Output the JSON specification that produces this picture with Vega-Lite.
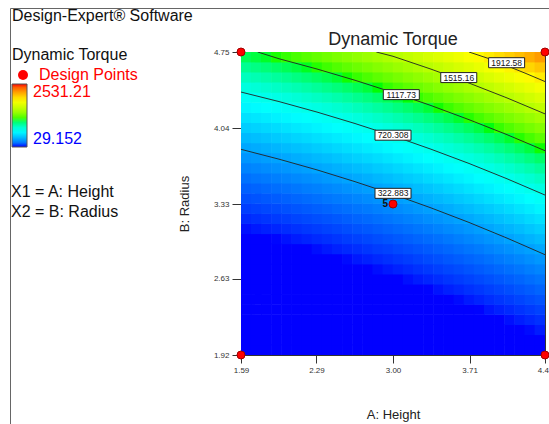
{
"$schema":"https://vega.github.io/schema/vega-lite/v6.json",
"width":304,"height":303,
"autosize":{"type":"none"},
"padding":{"left":241,"top":52,"right":4,"bottom":69},
"background":"white",
"title":{"text":"Dynamic Torque","fontSize":18,"font":"Liberation Sans","fontWeight":"normal","color":"#222","anchor":"middle","frame":"group","offset":6,"dy":47},
"config":{
 "font":"Liberation Sans",
 "view":{"stroke":"#333","strokeWidth":1},
 "axis":{"labelFont":"Liberation Sans","titleFont":"Liberation Sans","titleFontWeight":"normal","labelFontSize":8,"titleFontSize":13,"labelColor":"#333","titleColor":"#222","domainColor":"#333","tickColor":"#333","grid":false,"labelFlush":false},
 "legend":{"labelFont":"Liberation Sans","titleFont":"Liberation Sans","titleFontWeight":"normal"}
},
"encoding":{
 "x":{"field":"a","type":"quantitative","scale":{"domain":[1.59,4.41],"nice":false,"zero":false},"axis":{"title":"A: Height","values":[1.59,2.29,3.0,3.71,4.41],"format":".2f","tickSize":8,"labelPadding":3,"titlePadding":34}},
 "y":{"field":"b","type":"quantitative","scale":{"domain":[1.92,4.75],"nice":false,"zero":false},"axis":{"title":"B: Radius","values":[1.92,2.63,3.33,4.04,4.75],"format":".2f","tickSize":9,"labelPadding":3,"titlePadding":22}}
},
"layer":[
{"data":{"values":[
{"a":1.637,"b":1.967,"t":29},{"a":1.637,"b":2.062,"t":29},{"a":1.637,"b":2.156,"t":29},{"a":1.637,"b":2.25,"t":29},{"a":1.637,"b":2.345,"t":29},{"a":1.637,"b":2.439,"t":29},{"a":1.637,"b":2.533,"t":29},{"a":1.637,"b":2.628,"t":29},{"a":1.637,"b":2.722,"t":29},{"a":1.637,"b":2.816,"t":29},{"a":1.637,"b":2.911,"t":29},{"a":1.637,"b":3.005,"t":29},{"a":1.637,"b":3.099,"t":35},{"a":1.637,"b":3.194,"t":55},{"a":1.637,"b":3.288,"t":81},{"a":1.637,"b":3.382,"t":112},{"a":1.637,"b":3.477,"t":147},{"a":1.637,"b":3.571,"t":187},{"a":1.637,"b":3.665,"t":233},{"a":1.637,"b":3.76,"t":283},{"a":1.637,"b":3.854,"t":338},{"a":1.637,"b":3.948,"t":397},{"a":1.637,"b":4.043,"t":462},{"a":1.637,"b":4.137,"t":532},{"a":1.637,"b":4.231,"t":606},{"a":1.637,"b":4.326,"t":686},{"a":1.637,"b":4.42,"t":770},{"a":1.637,"b":4.514,"t":859},{"a":1.637,"b":4.609,"t":953},{"a":1.637,"b":4.703,"t":1052},
{"a":1.731,"b":1.967,"t":29},{"a":1.731,"b":2.062,"t":29},{"a":1.731,"b":2.156,"t":29},{"a":1.731,"b":2.25,"t":29},{"a":1.731,"b":2.345,"t":29},{"a":1.731,"b":2.439,"t":29},{"a":1.731,"b":2.533,"t":29},{"a":1.731,"b":2.628,"t":29},{"a":1.731,"b":2.722,"t":29},{"a":1.731,"b":2.816,"t":29},{"a":1.731,"b":2.911,"t":29},{"a":1.731,"b":3.005,"t":29},{"a":1.731,"b":3.099,"t":40},{"a":1.731,"b":3.194,"t":62},{"a":1.731,"b":3.288,"t":89},{"a":1.731,"b":3.382,"t":120},{"a":1.731,"b":3.477,"t":157},{"a":1.731,"b":3.571,"t":199},{"a":1.731,"b":3.665,"t":245},{"a":1.731,"b":3.76,"t":296},{"a":1.731,"b":3.854,"t":352},{"a":1.731,"b":3.948,"t":413},{"a":1.731,"b":4.043,"t":479},{"a":1.731,"b":4.137,"t":550},{"a":1.731,"b":4.231,"t":626},{"a":1.731,"b":4.326,"t":706},{"a":1.731,"b":4.42,"t":791},{"a":1.731,"b":4.514,"t":882},{"a":1.731,"b":4.609,"t":977},{"a":1.731,"b":4.703,"t":1077},
{"a":1.825,"b":1.967,"t":29},{"a":1.825,"b":2.062,"t":29},{"a":1.825,"b":2.156,"t":29},{"a":1.825,"b":2.25,"t":29},{"a":1.825,"b":2.345,"t":29},{"a":1.825,"b":2.439,"t":29},{"a":1.825,"b":2.533,"t":29},{"a":1.825,"b":2.628,"t":29},{"a":1.825,"b":2.722,"t":29},{"a":1.825,"b":2.816,"t":29},{"a":1.825,"b":2.911,"t":29},{"a":1.825,"b":3.005,"t":29},{"a":1.825,"b":3.099,"t":45},{"a":1.825,"b":3.194,"t":68},{"a":1.825,"b":3.288,"t":97},{"a":1.825,"b":3.382,"t":130},{"a":1.825,"b":3.477,"t":168},{"a":1.825,"b":3.571,"t":210},{"a":1.825,"b":3.665,"t":258},{"a":1.825,"b":3.76,"t":310},{"a":1.825,"b":3.854,"t":368},{"a":1.825,"b":3.948,"t":430},{"a":1.825,"b":4.043,"t":497},{"a":1.825,"b":4.137,"t":569},{"a":1.825,"b":4.231,"t":646},{"a":1.825,"b":4.326,"t":727},{"a":1.825,"b":4.42,"t":814},{"a":1.825,"b":4.514,"t":905},{"a":1.825,"b":4.609,"t":1001},{"a":1.825,"b":4.703,"t":1102},
{"a":1.919,"b":1.967,"t":29},{"a":1.919,"b":2.062,"t":29},{"a":1.919,"b":2.156,"t":29},{"a":1.919,"b":2.25,"t":29},{"a":1.919,"b":2.345,"t":29},{"a":1.919,"b":2.439,"t":29},{"a":1.919,"b":2.533,"t":29},{"a":1.919,"b":2.628,"t":29},{"a":1.919,"b":2.722,"t":29},{"a":1.919,"b":2.816,"t":29},{"a":1.919,"b":2.911,"t":29},{"a":1.919,"b":3.005,"t":31},{"a":1.919,"b":3.099,"t":51},{"a":1.919,"b":3.194,"t":76},{"a":1.919,"b":3.288,"t":105},{"a":1.919,"b":3.382,"t":139},{"a":1.919,"b":3.477,"t":179},{"a":1.919,"b":3.571,"t":223},{"a":1.919,"b":3.665,"t":272},{"a":1.919,"b":3.76,"t":325},{"a":1.919,"b":3.854,"t":384},{"a":1.919,"b":3.948,"t":447},{"a":1.919,"b":4.043,"t":515},{"a":1.919,"b":4.137,"t":589},{"a":1.919,"b":4.231,"t":666},{"a":1.919,"b":4.326,"t":749},{"a":1.919,"b":4.42,"t":837},{"a":1.919,"b":4.514,"t":929},{"a":1.919,"b":4.609,"t":1027},{"a":1.919,"b":4.703,"t":1129},
{"a":2.013,"b":1.967,"t":29},{"a":2.013,"b":2.062,"t":29},{"a":2.013,"b":2.156,"t":29},{"a":2.013,"b":2.25,"t":29},{"a":2.013,"b":2.345,"t":29},{"a":2.013,"b":2.439,"t":29},{"a":2.013,"b":2.533,"t":29},{"a":2.013,"b":2.628,"t":29},{"a":2.013,"b":2.722,"t":29},{"a":2.013,"b":2.816,"t":29},{"a":2.013,"b":2.911,"t":29},{"a":2.013,"b":3.005,"t":36},{"a":2.013,"b":3.099,"t":57},{"a":2.013,"b":3.194,"t":83},{"a":2.013,"b":3.288,"t":114},{"a":2.013,"b":3.382,"t":150},{"a":2.013,"b":3.477,"t":190},{"a":2.013,"b":3.571,"t":236},{"a":2.013,"b":3.665,"t":286},{"a":2.013,"b":3.76,"t":341},{"a":2.013,"b":3.854,"t":401},{"a":2.013,"b":3.948,"t":465},{"a":2.013,"b":4.043,"t":535},{"a":2.013,"b":4.137,"t":609},{"a":2.013,"b":4.231,"t":688},{"a":2.013,"b":4.326,"t":772},{"a":2.013,"b":4.42,"t":861},{"a":2.013,"b":4.514,"t":954},{"a":2.013,"b":4.609,"t":1053},{"a":2.013,"b":4.703,"t":1156},
{"a":2.107,"b":1.967,"t":29},{"a":2.107,"b":2.062,"t":29},{"a":2.107,"b":2.156,"t":29},{"a":2.107,"b":2.25,"t":29},{"a":2.107,"b":2.345,"t":29},{"a":2.107,"b":2.439,"t":29},{"a":2.107,"b":2.533,"t":29},{"a":2.107,"b":2.628,"t":29},{"a":2.107,"b":2.722,"t":29},{"a":2.107,"b":2.816,"t":29},{"a":2.107,"b":2.911,"t":29},{"a":2.107,"b":3.005,"t":42},{"a":2.107,"b":3.099,"t":64},{"a":2.107,"b":3.194,"t":92},{"a":2.107,"b":3.288,"t":124},{"a":2.107,"b":3.382,"t":161},{"a":2.107,"b":3.477,"t":203},{"a":2.107,"b":3.571,"t":249},{"a":2.107,"b":3.665,"t":301},{"a":2.107,"b":3.76,"t":357},{"a":2.107,"b":3.854,"t":418},{"a":2.107,"b":3.948,"t":484},{"a":2.107,"b":4.043,"t":555},{"a":2.107,"b":4.137,"t":630},{"a":2.107,"b":4.231,"t":711},{"a":2.107,"b":4.326,"t":796},{"a":2.107,"b":4.42,"t":886},{"a":2.107,"b":4.514,"t":981},{"a":2.107,"b":4.609,"t":1080},{"a":2.107,"b":4.703,"t":1185},
{"a":2.201,"b":1.967,"t":29},{"a":2.201,"b":2.062,"t":29},{"a":2.201,"b":2.156,"t":29},{"a":2.201,"b":2.25,"t":29},{"a":2.201,"b":2.345,"t":29},{"a":2.201,"b":2.439,"t":29},{"a":2.201,"b":2.533,"t":29},{"a":2.201,"b":2.628,"t":29},{"a":2.201,"b":2.722,"t":29},{"a":2.201,"b":2.816,"t":29},{"a":2.201,"b":2.911,"t":29},{"a":2.201,"b":3.005,"t":48},{"a":2.201,"b":3.099,"t":72},{"a":2.201,"b":3.194,"t":101},{"a":2.201,"b":3.288,"t":134},{"a":2.201,"b":3.382,"t":173},{"a":2.201,"b":3.477,"t":216},{"a":2.201,"b":3.571,"t":264},{"a":2.201,"b":3.665,"t":316},{"a":2.201,"b":3.76,"t":374},{"a":2.201,"b":3.854,"t":436},{"a":2.201,"b":3.948,"t":504},{"a":2.201,"b":4.043,"t":575},{"a":2.201,"b":4.137,"t":652},{"a":2.201,"b":4.231,"t":734},{"a":2.201,"b":4.326,"t":820},{"a":2.201,"b":4.42,"t":911},{"a":2.201,"b":4.514,"t":1007},{"a":2.201,"b":4.609,"t":1108},{"a":2.201,"b":4.703,"t":1214},
{"a":2.295,"b":1.967,"t":29},{"a":2.295,"b":2.062,"t":29},{"a":2.295,"b":2.156,"t":29},{"a":2.295,"b":2.25,"t":29},{"a":2.295,"b":2.345,"t":29},{"a":2.295,"b":2.439,"t":29},{"a":2.295,"b":2.533,"t":29},{"a":2.295,"b":2.628,"t":29},{"a":2.295,"b":2.722,"t":29},{"a":2.295,"b":2.816,"t":29},{"a":2.295,"b":2.911,"t":34},{"a":2.295,"b":3.005,"t":55},{"a":2.295,"b":3.099,"t":80},{"a":2.295,"b":3.194,"t":110},{"a":2.295,"b":3.288,"t":145},{"a":2.295,"b":3.382,"t":185},{"a":2.295,"b":3.477,"t":229},{"a":2.295,"b":3.571,"t":279},{"a":2.295,"b":3.665,"t":333},{"a":2.295,"b":3.76,"t":392},{"a":2.295,"b":3.854,"t":455},{"a":2.295,"b":3.948,"t":524},{"a":2.295,"b":4.043,"t":597},{"a":2.295,"b":4.137,"t":675},{"a":2.295,"b":4.231,"t":758},{"a":2.295,"b":4.326,"t":846},{"a":2.295,"b":4.42,"t":938},{"a":2.295,"b":4.514,"t":1035},{"a":2.295,"b":4.609,"t":1137},{"a":2.295,"b":4.703,"t":1244},
{"a":2.389,"b":1.967,"t":29},{"a":2.389,"b":2.062,"t":29},{"a":2.389,"b":2.156,"t":29},{"a":2.389,"b":2.25,"t":29},{"a":2.389,"b":2.345,"t":29},{"a":2.389,"b":2.439,"t":29},{"a":2.389,"b":2.533,"t":29},{"a":2.389,"b":2.628,"t":29},{"a":2.389,"b":2.722,"t":29},{"a":2.389,"b":2.816,"t":29},{"a":2.389,"b":2.911,"t":40},{"a":2.389,"b":3.005,"t":62},{"a":2.389,"b":3.099,"t":89},{"a":2.389,"b":3.194,"t":120},{"a":2.389,"b":3.288,"t":157},{"a":2.389,"b":3.382,"t":198},{"a":2.389,"b":3.477,"t":244},{"a":2.389,"b":3.571,"t":294},{"a":2.389,"b":3.665,"t":350},{"a":2.389,"b":3.76,"t":410},{"a":2.389,"b":3.854,"t":475},{"a":2.389,"b":3.948,"t":545},{"a":2.389,"b":4.043,"t":620},{"a":2.389,"b":4.137,"t":699},{"a":2.389,"b":4.231,"t":783},{"a":2.389,"b":4.326,"t":872},{"a":2.389,"b":4.42,"t":966},{"a":2.389,"b":4.514,"t":1064},{"a":2.389,"b":4.609,"t":1168},{"a":2.389,"b":4.703,"t":1276},
{"a":2.483,"b":1.967,"t":29},{"a":2.483,"b":2.062,"t":29},{"a":2.483,"b":2.156,"t":29},{"a":2.483,"b":2.25,"t":29},{"a":2.483,"b":2.345,"t":29},{"a":2.483,"b":2.439,"t":29},{"a":2.483,"b":2.533,"t":29},{"a":2.483,"b":2.628,"t":29},{"a":2.483,"b":2.722,"t":29},{"a":2.483,"b":2.816,"t":29},{"a":2.483,"b":2.911,"t":47},{"a":2.483,"b":3.005,"t":70},{"a":2.483,"b":3.099,"t":98},{"a":2.483,"b":3.194,"t":131},{"a":2.483,"b":3.288,"t":169},{"a":2.483,"b":3.382,"t":212},{"a":2.483,"b":3.477,"t":259},{"a":2.483,"b":3.571,"t":311},{"a":2.483,"b":3.665,"t":368},{"a":2.483,"b":3.76,"t":429},{"a":2.483,"b":3.854,"t":496},{"a":2.483,"b":3.948,"t":567},{"a":2.483,"b":4.043,"t":643},{"a":2.483,"b":4.137,"t":724},{"a":2.483,"b":4.231,"t":809},{"a":2.483,"b":4.326,"t":899},{"a":2.483,"b":4.42,"t":994},{"a":2.483,"b":4.514,"t":1094},{"a":2.483,"b":4.609,"t":1199},{"a":2.483,"b":4.703,"t":1308},
{"a":2.577,"b":1.967,"t":29},{"a":2.577,"b":2.062,"t":29},{"a":2.577,"b":2.156,"t":29},{"a":2.577,"b":2.25,"t":29},{"a":2.577,"b":2.345,"t":29},{"a":2.577,"b":2.439,"t":29},{"a":2.577,"b":2.533,"t":29},{"a":2.577,"b":2.628,"t":29},{"a":2.577,"b":2.722,"t":29},{"a":2.577,"b":2.816,"t":33},{"a":2.577,"b":2.911,"t":54},{"a":2.577,"b":3.005,"t":79},{"a":2.577,"b":3.099,"t":108},{"a":2.577,"b":3.194,"t":143},{"a":2.577,"b":3.288,"t":182},{"a":2.577,"b":3.382,"t":226},{"a":2.577,"b":3.477,"t":275},{"a":2.577,"b":3.571,"t":328},{"a":2.577,"b":3.665,"t":387},{"a":2.577,"b":3.76,"t":450},{"a":2.577,"b":3.854,"t":517},{"a":2.577,"b":3.948,"t":590},{"a":2.577,"b":4.043,"t":667},{"a":2.577,"b":4.137,"t":749},{"a":2.577,"b":4.231,"t":836},{"a":2.577,"b":4.326,"t":928},{"a":2.577,"b":4.42,"t":1024},{"a":2.577,"b":4.514,"t":1125},{"a":2.577,"b":4.609,"t":1231},{"a":2.577,"b":4.703,"t":1341},
{"a":2.671,"b":1.967,"t":29},{"a":2.671,"b":2.062,"t":29},{"a":2.671,"b":2.156,"t":29},{"a":2.671,"b":2.25,"t":29},{"a":2.671,"b":2.345,"t":29},{"a":2.671,"b":2.439,"t":29},{"a":2.671,"b":2.533,"t":29},{"a":2.671,"b":2.628,"t":29},{"a":2.671,"b":2.722,"t":29},{"a":2.671,"b":2.816,"t":40},{"a":2.671,"b":2.911,"t":61},{"a":2.671,"b":3.005,"t":88},{"a":2.671,"b":3.099,"t":119},{"a":2.671,"b":3.194,"t":155},{"a":2.671,"b":3.288,"t":196},{"a":2.671,"b":3.382,"t":241},{"a":2.671,"b":3.477,"t":291},{"a":2.671,"b":3.571,"t":346},{"a":2.671,"b":3.665,"t":406},{"a":2.671,"b":3.76,"t":471},{"a":2.671,"b":3.854,"t":540},{"a":2.671,"b":3.948,"t":614},{"a":2.671,"b":4.043,"t":692},{"a":2.671,"b":4.137,"t":776},{"a":2.671,"b":4.231,"t":864},{"a":2.671,"b":4.326,"t":957},{"a":2.671,"b":4.42,"t":1054},{"a":2.671,"b":4.514,"t":1157},{"a":2.671,"b":4.609,"t":1264},{"a":2.671,"b":4.703,"t":1376},
{"a":2.765,"b":1.967,"t":29},{"a":2.765,"b":2.062,"t":29},{"a":2.765,"b":2.156,"t":29},{"a":2.765,"b":2.25,"t":29},{"a":2.765,"b":2.345,"t":29},{"a":2.765,"b":2.439,"t":29},{"a":2.765,"b":2.533,"t":29},{"a":2.765,"b":2.628,"t":29},{"a":2.765,"b":2.722,"t":29},{"a":2.765,"b":2.816,"t":46},{"a":2.765,"b":2.911,"t":70},{"a":2.765,"b":3.005,"t":98},{"a":2.765,"b":3.099,"t":130},{"a":2.765,"b":3.194,"t":168},{"a":2.765,"b":3.288,"t":210},{"a":2.765,"b":3.382,"t":257},{"a":2.765,"b":3.477,"t":309},{"a":2.765,"b":3.571,"t":365},{"a":2.765,"b":3.665,"t":426},{"a":2.765,"b":3.76,"t":492},{"a":2.765,"b":3.854,"t":563},{"a":2.765,"b":3.948,"t":638},{"a":2.765,"b":4.043,"t":718},{"a":2.765,"b":4.137,"t":803},{"a":2.765,"b":4.231,"t":893},{"a":2.765,"b":4.326,"t":987},{"a":2.765,"b":4.42,"t":1086},{"a":2.765,"b":4.514,"t":1190},{"a":2.765,"b":4.609,"t":1298},{"a":2.765,"b":4.703,"t":1412},
{"a":2.859,"b":1.967,"t":29},{"a":2.859,"b":2.062,"t":29},{"a":2.859,"b":2.156,"t":29},{"a":2.859,"b":2.25,"t":29},{"a":2.859,"b":2.345,"t":29},{"a":2.859,"b":2.439,"t":29},{"a":2.859,"b":2.533,"t":29},{"a":2.859,"b":2.628,"t":29},{"a":2.859,"b":2.722,"t":34},{"a":2.859,"b":2.816,"t":54},{"a":2.859,"b":2.911,"t":79},{"a":2.859,"b":3.005,"t":108},{"a":2.859,"b":3.099,"t":143},{"a":2.859,"b":3.194,"t":182},{"a":2.859,"b":3.288,"t":225},{"a":2.859,"b":3.382,"t":274},{"a":2.859,"b":3.477,"t":327},{"a":2.859,"b":3.571,"t":385},{"a":2.859,"b":3.665,"t":448},{"a":2.859,"b":3.76,"t":515},{"a":2.859,"b":3.854,"t":587},{"a":2.859,"b":3.948,"t":664},{"a":2.859,"b":4.043,"t":745},{"a":2.859,"b":4.137,"t":832},{"a":2.859,"b":4.231,"t":923},{"a":2.859,"b":4.326,"t":1018},{"a":2.859,"b":4.42,"t":1119},{"a":2.859,"b":4.514,"t":1224},{"a":2.859,"b":4.609,"t":1334},{"a":2.859,"b":4.703,"t":1448},
{"a":2.953,"b":1.967,"t":29},{"a":2.953,"b":2.062,"t":29},{"a":2.953,"b":2.156,"t":29},{"a":2.953,"b":2.25,"t":29},{"a":2.953,"b":2.345,"t":29},{"a":2.953,"b":2.439,"t":29},{"a":2.953,"b":2.533,"t":29},{"a":2.953,"b":2.628,"t":29},{"a":2.953,"b":2.722,"t":40},{"a":2.953,"b":2.816,"t":62},{"a":2.953,"b":2.911,"t":88},{"a":2.953,"b":3.005,"t":120},{"a":2.953,"b":3.099,"t":156},{"a":2.953,"b":3.194,"t":196},{"a":2.953,"b":3.288,"t":241},{"a":2.953,"b":3.382,"t":291},{"a":2.953,"b":3.477,"t":346},{"a":2.953,"b":3.571,"t":406},{"a":2.953,"b":3.665,"t":470},{"a":2.953,"b":3.76,"t":539},{"a":2.953,"b":3.854,"t":612},{"a":2.953,"b":3.948,"t":691},{"a":2.953,"b":4.043,"t":774},{"a":2.953,"b":4.137,"t":861},{"a":2.953,"b":4.231,"t":954},{"a":2.953,"b":4.326,"t":1051},{"a":2.953,"b":4.42,"t":1153},{"a":2.953,"b":4.514,"t":1259},{"a":2.953,"b":4.609,"t":1370},{"a":2.953,"b":4.703,"t":1486},
{"a":3.047,"b":1.967,"t":29},{"a":3.047,"b":2.062,"t":29},{"a":3.047,"b":2.156,"t":29},{"a":3.047,"b":2.25,"t":29},{"a":3.047,"b":2.345,"t":29},{"a":3.047,"b":2.439,"t":29},{"a":3.047,"b":2.533,"t":29},{"a":3.047,"b":2.628,"t":29},{"a":3.047,"b":2.722,"t":47},{"a":3.047,"b":2.816,"t":71},{"a":3.047,"b":2.911,"t":99},{"a":3.047,"b":3.005,"t":132},{"a":3.047,"b":3.099,"t":169},{"a":3.047,"b":3.194,"t":211},{"a":3.047,"b":3.288,"t":258},{"a":3.047,"b":3.382,"t":310},{"a":3.047,"b":3.477,"t":366},{"a":3.047,"b":3.571,"t":427},{"a":3.047,"b":3.665,"t":493},{"a":3.047,"b":3.76,"t":563},{"a":3.047,"b":3.854,"t":638},{"a":3.047,"b":3.948,"t":718},{"a":3.047,"b":4.043,"t":803},{"a":3.047,"b":4.137,"t":892},{"a":3.047,"b":4.231,"t":986},{"a":3.047,"b":4.326,"t":1084},{"a":3.047,"b":4.42,"t":1188},{"a":3.047,"b":4.514,"t":1295},{"a":3.047,"b":4.609,"t":1408},{"a":3.047,"b":4.703,"t":1525},
{"a":3.141,"b":1.967,"t":29},{"a":3.141,"b":2.062,"t":29},{"a":3.141,"b":2.156,"t":29},{"a":3.141,"b":2.25,"t":29},{"a":3.141,"b":2.345,"t":29},{"a":3.141,"b":2.439,"t":29},{"a":3.141,"b":2.533,"t":29},{"a":3.141,"b":2.628,"t":35},{"a":3.141,"b":2.722,"t":55},{"a":3.141,"b":2.816,"t":80},{"a":3.141,"b":2.911,"t":110},{"a":3.141,"b":3.005,"t":145},{"a":3.141,"b":3.099,"t":184},{"a":3.141,"b":3.194,"t":228},{"a":3.141,"b":3.288,"t":276},{"a":3.141,"b":3.382,"t":329},{"a":3.141,"b":3.477,"t":387},{"a":3.141,"b":3.571,"t":450},{"a":3.141,"b":3.665,"t":517},{"a":3.141,"b":3.76,"t":589},{"a":3.141,"b":3.854,"t":666},{"a":3.141,"b":3.948,"t":747},{"a":3.141,"b":4.043,"t":833},{"a":3.141,"b":4.137,"t":923},{"a":3.141,"b":4.231,"t":1019},{"a":3.141,"b":4.326,"t":1119},{"a":3.141,"b":4.42,"t":1224},{"a":3.141,"b":4.514,"t":1333},{"a":3.141,"b":4.609,"t":1447},{"a":3.141,"b":4.703,"t":1566},
{"a":3.235,"b":1.967,"t":29},{"a":3.235,"b":2.062,"t":29},{"a":3.235,"b":2.156,"t":29},{"a":3.235,"b":2.25,"t":29},{"a":3.235,"b":2.345,"t":29},{"a":3.235,"b":2.439,"t":29},{"a":3.235,"b":2.533,"t":29},{"a":3.235,"b":2.628,"t":42},{"a":3.235,"b":2.722,"t":64},{"a":3.235,"b":2.816,"t":91},{"a":3.235,"b":2.911,"t":122},{"a":3.235,"b":3.005,"t":158},{"a":3.235,"b":3.099,"t":199},{"a":3.235,"b":3.194,"t":245},{"a":3.235,"b":3.288,"t":295},{"a":3.235,"b":3.382,"t":350},{"a":3.235,"b":3.477,"t":409},{"a":3.235,"b":3.571,"t":473},{"a":3.235,"b":3.665,"t":542},{"a":3.235,"b":3.76,"t":616},{"a":3.235,"b":3.854,"t":694},{"a":3.235,"b":3.948,"t":777},{"a":3.235,"b":4.043,"t":864},{"a":3.235,"b":4.137,"t":956},{"a":3.235,"b":4.231,"t":1053},{"a":3.235,"b":4.326,"t":1155},{"a":3.235,"b":4.42,"t":1261},{"a":3.235,"b":4.514,"t":1372},{"a":3.235,"b":4.609,"t":1487},{"a":3.235,"b":4.703,"t":1607},
{"a":3.329,"b":1.967,"t":29},{"a":3.329,"b":2.062,"t":29},{"a":3.329,"b":2.156,"t":29},{"a":3.329,"b":2.25,"t":29},{"a":3.329,"b":2.345,"t":29},{"a":3.329,"b":2.439,"t":29},{"a":3.329,"b":2.533,"t":30},{"a":3.329,"b":2.628,"t":50},{"a":3.329,"b":2.722,"t":74},{"a":3.329,"b":2.816,"t":102},{"a":3.329,"b":2.911,"t":135},{"a":3.329,"b":3.005,"t":173},{"a":3.329,"b":3.099,"t":215},{"a":3.329,"b":3.194,"t":263},{"a":3.329,"b":3.288,"t":314},{"a":3.329,"b":3.382,"t":371},{"a":3.329,"b":3.477,"t":432},{"a":3.329,"b":3.571,"t":498},{"a":3.329,"b":3.665,"t":568},{"a":3.329,"b":3.76,"t":643},{"a":3.329,"b":3.854,"t":723},{"a":3.329,"b":3.948,"t":807},{"a":3.329,"b":4.043,"t":896},{"a":3.329,"b":4.137,"t":990},{"a":3.329,"b":4.231,"t":1089},{"a":3.329,"b":4.326,"t":1192},{"a":3.329,"b":4.42,"t":1299},{"a":3.329,"b":4.514,"t":1412},{"a":3.329,"b":4.609,"t":1529},{"a":3.329,"b":4.703,"t":1650},
{"a":3.423,"b":1.967,"t":29},{"a":3.423,"b":2.062,"t":29},{"a":3.423,"b":2.156,"t":29},{"a":3.423,"b":2.25,"t":29},{"a":3.423,"b":2.345,"t":29},{"a":3.423,"b":2.439,"t":29},{"a":3.423,"b":2.533,"t":37},{"a":3.423,"b":2.628,"t":58},{"a":3.423,"b":2.722,"t":84},{"a":3.423,"b":2.816,"t":114},{"a":3.423,"b":2.911,"t":149},{"a":3.423,"b":3.005,"t":188},{"a":3.423,"b":3.099,"t":233},{"a":3.423,"b":3.194,"t":281},{"a":3.423,"b":3.288,"t":335},{"a":3.423,"b":3.382,"t":393},{"a":3.423,"b":3.477,"t":456},{"a":3.423,"b":3.571,"t":523},{"a":3.423,"b":3.665,"t":595},{"a":3.423,"b":3.76,"t":672},{"a":3.423,"b":3.854,"t":753},{"a":3.423,"b":3.948,"t":839},{"a":3.423,"b":4.043,"t":930},{"a":3.423,"b":4.137,"t":1025},{"a":3.423,"b":4.231,"t":1125},{"a":3.423,"b":4.326,"t":1230},{"a":3.423,"b":4.42,"t":1339},{"a":3.423,"b":4.514,"t":1453},{"a":3.423,"b":4.609,"t":1571},{"a":3.423,"b":4.703,"t":1695},
{"a":3.517,"b":1.967,"t":29},{"a":3.517,"b":2.062,"t":29},{"a":3.517,"b":2.156,"t":29},{"a":3.517,"b":2.25,"t":29},{"a":3.517,"b":2.345,"t":29},{"a":3.517,"b":2.439,"t":29},{"a":3.517,"b":2.533,"t":45},{"a":3.517,"b":2.628,"t":68},{"a":3.517,"b":2.722,"t":95},{"a":3.517,"b":2.816,"t":127},{"a":3.517,"b":2.911,"t":164},{"a":3.517,"b":3.005,"t":205},{"a":3.517,"b":3.099,"t":251},{"a":3.517,"b":3.194,"t":301},{"a":3.517,"b":3.288,"t":356},{"a":3.517,"b":3.382,"t":416},{"a":3.517,"b":3.477,"t":481},{"a":3.517,"b":3.571,"t":550},{"a":3.517,"b":3.665,"t":623},{"a":3.517,"b":3.76,"t":702},{"a":3.517,"b":3.854,"t":785},{"a":3.517,"b":3.948,"t":872},{"a":3.517,"b":4.043,"t":965},{"a":3.517,"b":4.137,"t":1061},{"a":3.517,"b":4.231,"t":1163},{"a":3.517,"b":4.326,"t":1269},{"a":3.517,"b":4.42,"t":1380},{"a":3.517,"b":4.514,"t":1495},{"a":3.517,"b":4.609,"t":1615},{"a":3.517,"b":4.703,"t":1740},
{"a":3.611,"b":1.967,"t":29},{"a":3.611,"b":2.062,"t":29},{"a":3.611,"b":2.156,"t":29},{"a":3.611,"b":2.25,"t":29},{"a":3.611,"b":2.345,"t":29},{"a":3.611,"b":2.439,"t":33},{"a":3.611,"b":2.533,"t":53},{"a":3.611,"b":2.628,"t":78},{"a":3.611,"b":2.722,"t":107},{"a":3.611,"b":2.816,"t":141},{"a":3.611,"b":2.911,"t":179},{"a":3.611,"b":3.005,"t":222},{"a":3.611,"b":3.099,"t":270},{"a":3.611,"b":3.194,"t":322},{"a":3.611,"b":3.288,"t":379},{"a":3.611,"b":3.382,"t":440},{"a":3.611,"b":3.477,"t":507},{"a":3.611,"b":3.571,"t":577},{"a":3.611,"b":3.665,"t":653},{"a":3.611,"b":3.76,"t":733},{"a":3.611,"b":3.854,"t":817},{"a":3.611,"b":3.948,"t":907},{"a":3.611,"b":4.043,"t":1000},{"a":3.611,"b":4.137,"t":1099},{"a":3.611,"b":4.231,"t":1202},{"a":3.611,"b":4.326,"t":1310},{"a":3.611,"b":4.42,"t":1422},{"a":3.611,"b":4.514,"t":1539},{"a":3.611,"b":4.609,"t":1661},{"a":3.611,"b":4.703,"t":1787},
{"a":3.705,"b":1.967,"t":29},{"a":3.705,"b":2.062,"t":29},{"a":3.705,"b":2.156,"t":29},{"a":3.705,"b":2.25,"t":29},{"a":3.705,"b":2.345,"t":29},{"a":3.705,"b":2.439,"t":41},{"a":3.705,"b":2.533,"t":63},{"a":3.705,"b":2.628,"t":89},{"a":3.705,"b":2.722,"t":120},{"a":3.705,"b":2.816,"t":156},{"a":3.705,"b":2.911,"t":196},{"a":3.705,"b":3.005,"t":241},{"a":3.705,"b":3.099,"t":290},{"a":3.705,"b":3.194,"t":344},{"a":3.705,"b":3.288,"t":403},{"a":3.705,"b":3.382,"t":466},{"a":3.705,"b":3.477,"t":534},{"a":3.705,"b":3.571,"t":606},{"a":3.705,"b":3.665,"t":683},{"a":3.705,"b":3.76,"t":765},{"a":3.705,"b":3.854,"t":851},{"a":3.705,"b":3.948,"t":942},{"a":3.705,"b":4.043,"t":1038},{"a":3.705,"b":4.137,"t":1138},{"a":3.705,"b":4.231,"t":1242},{"a":3.705,"b":4.326,"t":1352},{"a":3.705,"b":4.42,"t":1466},{"a":3.705,"b":4.514,"t":1584},{"a":3.705,"b":4.609,"t":1707},{"a":3.705,"b":4.703,"t":1835},
{"a":3.799,"b":1.967,"t":29},{"a":3.799,"b":2.062,"t":29},{"a":3.799,"b":2.156,"t":29},{"a":3.799,"b":2.25,"t":29},{"a":3.799,"b":2.345,"t":30},{"a":3.799,"b":2.439,"t":49},{"a":3.799,"b":2.533,"t":73},{"a":3.799,"b":2.628,"t":101},{"a":3.799,"b":2.722,"t":134},{"a":3.799,"b":2.816,"t":171},{"a":3.799,"b":2.911,"t":213},{"a":3.799,"b":3.005,"t":260},{"a":3.799,"b":3.099,"t":311},{"a":3.799,"b":3.194,"t":367},{"a":3.799,"b":3.288,"t":427},{"a":3.799,"b":3.382,"t":492},{"a":3.799,"b":3.477,"t":562},{"a":3.799,"b":3.571,"t":636},{"a":3.799,"b":3.665,"t":715},{"a":3.799,"b":3.76,"t":798},{"a":3.799,"b":3.854,"t":886},{"a":3.799,"b":3.948,"t":979},{"a":3.799,"b":4.043,"t":1076},{"a":3.799,"b":4.137,"t":1178},{"a":3.799,"b":4.231,"t":1284},{"a":3.799,"b":4.326,"t":1395},{"a":3.799,"b":4.42,"t":1511},{"a":3.799,"b":4.514,"t":1631},{"a":3.799,"b":4.609,"t":1755},{"a":3.799,"b":4.703,"t":1885},
{"a":3.893,"b":1.967,"t":29},{"a":3.893,"b":2.062,"t":29},{"a":3.893,"b":2.156,"t":29},{"a":3.893,"b":2.25,"t":29},{"a":3.893,"b":2.345,"t":38},{"a":3.893,"b":2.439,"t":59},{"a":3.893,"b":2.533,"t":84},{"a":3.893,"b":2.628,"t":114},{"a":3.893,"b":2.722,"t":149},{"a":3.893,"b":2.816,"t":188},{"a":3.893,"b":2.911,"t":232},{"a":3.893,"b":3.005,"t":280},{"a":3.893,"b":3.099,"t":333},{"a":3.893,"b":3.194,"t":391},{"a":3.893,"b":3.288,"t":453},{"a":3.893,"b":3.382,"t":520},{"a":3.893,"b":3.477,"t":591},{"a":3.893,"b":3.571,"t":667},{"a":3.893,"b":3.665,"t":748},{"a":3.893,"b":3.76,"t":833},{"a":3.893,"b":3.854,"t":922},{"a":3.893,"b":3.948,"t":1017},{"a":3.893,"b":4.043,"t":1116},{"a":3.893,"b":4.137,"t":1219},{"a":3.893,"b":4.231,"t":1327},{"a":3.893,"b":4.326,"t":1440},{"a":3.893,"b":4.42,"t":1557},{"a":3.893,"b":4.514,"t":1679},{"a":3.893,"b":4.609,"t":1805},{"a":3.893,"b":4.703,"t":1936},
{"a":3.987,"b":1.967,"t":29},{"a":3.987,"b":2.062,"t":29},{"a":3.987,"b":2.156,"t":29},{"a":3.987,"b":2.25,"t":29},{"a":3.987,"b":2.345,"t":46},{"a":3.987,"b":2.439,"t":69},{"a":3.987,"b":2.533,"t":96},{"a":3.987,"b":2.628,"t":128},{"a":3.987,"b":2.722,"t":165},{"a":3.987,"b":2.816,"t":206},{"a":3.987,"b":2.911,"t":252},{"a":3.987,"b":3.005,"t":302},{"a":3.987,"b":3.099,"t":357},{"a":3.987,"b":3.194,"t":416},{"a":3.987,"b":3.288,"t":480},{"a":3.987,"b":3.382,"t":549},{"a":3.987,"b":3.477,"t":622},{"a":3.987,"b":3.571,"t":699},{"a":3.987,"b":3.665,"t":782},{"a":3.987,"b":3.76,"t":869},{"a":3.987,"b":3.854,"t":960},{"a":3.987,"b":3.948,"t":1056},{"a":3.987,"b":4.043,"t":1157},{"a":3.987,"b":4.137,"t":1262},{"a":3.987,"b":4.231,"t":1371},{"a":3.987,"b":4.326,"t":1486},{"a":3.987,"b":4.42,"t":1605},{"a":3.987,"b":4.514,"t":1728},{"a":3.987,"b":4.609,"t":1856},{"a":3.987,"b":4.703,"t":1989},
{"a":4.081,"b":1.967,"t":29},{"a":4.081,"b":2.062,"t":29},{"a":4.081,"b":2.156,"t":29},{"a":4.081,"b":2.25,"t":35},{"a":4.081,"b":2.345,"t":55},{"a":4.081,"b":2.439,"t":80},{"a":4.081,"b":2.533,"t":109},{"a":4.081,"b":2.628,"t":143},{"a":4.081,"b":2.722,"t":182},{"a":4.081,"b":2.816,"t":225},{"a":4.081,"b":2.911,"t":272},{"a":4.081,"b":3.005,"t":324},{"a":4.081,"b":3.099,"t":381},{"a":4.081,"b":3.194,"t":442},{"a":4.081,"b":3.288,"t":508},{"a":4.081,"b":3.382,"t":579},{"a":4.081,"b":3.477,"t":653},{"a":4.081,"b":3.571,"t":733},{"a":4.081,"b":3.665,"t":817},{"a":4.081,"b":3.76,"t":906},{"a":4.081,"b":3.854,"t":999},{"a":4.081,"b":3.948,"t":1097},{"a":4.081,"b":4.043,"t":1199},{"a":4.081,"b":4.137,"t":1306},{"a":4.081,"b":4.231,"t":1417},{"a":4.081,"b":4.326,"t":1533},{"a":4.081,"b":4.42,"t":1654},{"a":4.081,"b":4.514,"t":1779},{"a":4.081,"b":4.609,"t":1909},{"a":4.081,"b":4.703,"t":2043},
{"a":4.175,"b":1.967,"t":29},{"a":4.175,"b":2.062,"t":29},{"a":4.175,"b":2.156,"t":29},{"a":4.175,"b":2.25,"t":44},{"a":4.175,"b":2.345,"t":66},{"a":4.175,"b":2.439,"t":92},{"a":4.175,"b":2.533,"t":124},{"a":4.175,"b":2.628,"t":159},{"a":4.175,"b":2.722,"t":200},{"a":4.175,"b":2.816,"t":245},{"a":4.175,"b":2.911,"t":294},{"a":4.175,"b":3.005,"t":348},{"a":4.175,"b":3.099,"t":407},{"a":4.175,"b":3.194,"t":470},{"a":4.175,"b":3.288,"t":538},{"a":4.175,"b":3.382,"t":610},{"a":4.175,"b":3.477,"t":687},{"a":4.175,"b":3.571,"t":768},{"a":4.175,"b":3.665,"t":854},{"a":4.175,"b":3.76,"t":944},{"a":4.175,"b":3.854,"t":1039},{"a":4.175,"b":3.948,"t":1139},{"a":4.175,"b":4.043,"t":1243},{"a":4.175,"b":4.137,"t":1351},{"a":4.175,"b":4.231,"t":1464},{"a":4.175,"b":4.326,"t":1582},{"a":4.175,"b":4.42,"t":1704},{"a":4.175,"b":4.514,"t":1831},{"a":4.175,"b":4.609,"t":1963},{"a":4.175,"b":4.703,"t":2099},
{"a":4.269,"b":1.967,"t":29},{"a":4.269,"b":2.062,"t":29},{"a":4.269,"b":2.156,"t":33},{"a":4.269,"b":2.25,"t":53},{"a":4.269,"b":2.345,"t":77},{"a":4.269,"b":2.439,"t":106},{"a":4.269,"b":2.533,"t":139},{"a":4.269,"b":2.628,"t":177},{"a":4.269,"b":2.722,"t":219},{"a":4.269,"b":2.816,"t":266},{"a":4.269,"b":2.911,"t":317},{"a":4.269,"b":3.005,"t":373},{"a":4.269,"b":3.099,"t":434},{"a":4.269,"b":3.194,"t":499},{"a":4.269,"b":3.288,"t":568},{"a":4.269,"b":3.382,"t":642},{"a":4.269,"b":3.477,"t":721},{"a":4.269,"b":3.571,"t":804},{"a":4.269,"b":3.665,"t":892},{"a":4.269,"b":3.76,"t":984},{"a":4.269,"b":3.854,"t":1081},{"a":4.269,"b":3.948,"t":1182},{"a":4.269,"b":4.043,"t":1288},{"a":4.269,"b":4.137,"t":1398},{"a":4.269,"b":4.231,"t":1513},{"a":4.269,"b":4.326,"t":1633},{"a":4.269,"b":4.42,"t":1757},{"a":4.269,"b":4.514,"t":1885},{"a":4.269,"b":4.609,"t":2018},{"a":4.269,"b":4.703,"t":2156},
{"a":4.363,"b":1.967,"t":29},{"a":4.363,"b":2.062,"t":29},{"a":4.363,"b":2.156,"t":42},{"a":4.363,"b":2.25,"t":63},{"a":4.363,"b":2.345,"t":89},{"a":4.363,"b":2.439,"t":120},{"a":4.363,"b":2.533,"t":155},{"a":4.363,"b":2.628,"t":195},{"a":4.363,"b":2.722,"t":239},{"a":4.363,"b":2.816,"t":288},{"a":4.363,"b":2.911,"t":341},{"a":4.363,"b":3.005,"t":399},{"a":4.363,"b":3.099,"t":462},{"a":4.363,"b":3.194,"t":529},{"a":4.363,"b":3.288,"t":600},{"a":4.363,"b":3.382,"t":676},{"a":4.363,"b":3.477,"t":756},{"a":4.363,"b":3.571,"t":842},{"a":4.363,"b":3.665,"t":931},{"a":4.363,"b":3.76,"t":1025},{"a":4.363,"b":3.854,"t":1124},{"a":4.363,"b":3.948,"t":1227},{"a":4.363,"b":4.043,"t":1334},{"a":4.363,"b":4.137,"t":1447},{"a":4.363,"b":4.231,"t":1563},{"a":4.363,"b":4.326,"t":1685},{"a":4.363,"b":4.42,"t":1810},{"a":4.363,"b":4.514,"t":1941},{"a":4.363,"b":4.609,"t":2075},{"a":4.363,"b":4.703,"t":2215}
]},
"mark":{"type":"rect","width":10.7,"height":10.7,"clip":true},
"encoding":{"color":{"field":"t","type":"quantitative",
 "scale":{"domain":[29.152,640,1120,1870,2531.21],"range":["#0000ff","#00ffff","#00ff00","#ffff00","#ff0000"]},
 "legend":{"title":"Dynamic Torque","orient":"none","legendX":-229,"legendY":-5,"direction":"vertical","gradientLength":63,"gradientThickness":15,"titleFontSize":16,"titleColor":"#111","titlePadding":21,"labelFontSize":16,"labelColor":{"expr":"datum.value > 1000 ? '#ff0000' : '#0000ff'"},"labelOffset":6,"values":[29.152,2531.21],"format":".6~g","gradientStrokeColor":"#555","gradientStrokeWidth":1}}}
},
{"data":{"values":[
{"lev":322.883,"a":1.59,"b":3.841},{"lev":322.883,"a":1.9425,"b":3.749},{"lev":322.883,"a":2.295,"b":3.649},{"lev":322.883,"a":2.6475,"b":3.539},{"lev":322.883,"a":3.0,"b":3.421},{"lev":322.883,"a":3.3525,"b":3.294},{"lev":322.883,"a":3.705,"b":3.158},{"lev":322.883,"a":4.0575,"b":3.012},{"lev":322.883,"a":4.41,"b":2.857},
{"lev":720.308,"a":1.59,"b":4.376},{"lev":720.308,"a":1.9425,"b":4.287},{"lev":720.308,"a":2.295,"b":4.189},{"lev":720.308,"a":2.6475,"b":4.082},{"lev":720.308,"a":3.0,"b":3.967},{"lev":720.308,"a":3.3525,"b":3.842},{"lev":720.308,"a":3.705,"b":3.709},{"lev":720.308,"a":4.0575,"b":3.566},{"lev":720.308,"a":4.41,"b":3.414},
{"lev":1117.73,"a":1.745,"b":4.75},{"lev":1117.73,"a":1.9425,"b":4.687},{"lev":1117.73,"a":2.295,"b":4.591},{"lev":1117.73,"a":2.6475,"b":4.486},{"lev":1117.73,"a":3.0,"b":4.372},{"lev":1117.73,"a":3.3525,"b":4.25},{"lev":1117.73,"a":3.705,"b":4.118},{"lev":1117.73,"a":4.0575,"b":3.978},{"lev":1117.73,"a":4.41,"b":3.828},
{"lev":1515.16,"a":2.845,"b":4.75},{"lev":1515.16,"a":3.0,"b":4.71},{"lev":1515.16,"a":3.3525,"b":4.59},{"lev":1515.16,"a":3.705,"b":4.46},{"lev":1515.16,"a":4.0575,"b":4.321},{"lev":1515.16,"a":4.41,"b":4.172},
{"lev":1912.58,"a":3.705,"b":4.75},{"lev":1912.58,"a":3.881,"b":4.691},{"lev":1912.58,"a":4.0575,"b":4.621},{"lev":1912.58,"a":4.234,"b":4.549},{"lev":1912.58,"a":4.41,"b":4.474}
]},
"mark":{"type":"line","strokeWidth":0.9,"clip":true},
"encoding":{"detail":{"field":"lev","type":"nominal"},"order":{"field":"a","type":"quantitative"},
 "stroke":{"field":"lev","type":"quantitative","scale":{"range":["#222222","#222222"]},
 "legend":{"title":null,"orient":"none","legendX":-231,"legendY":-44,"direction":"horizontal","gradientLength":800,"gradientThickness":600,"labelExpr":"''","labelOpacity":0,"gradientOpacity":0,"gradientStrokeWidth":0,"strokeColor":"#666","padding":0}}}
},
{"data":{"values":[
{"a":3.0,"b":3.43,"lab":"322.883"},{"a":3.0,"b":3.973,"lab":"720.308"},{"a":3.077,"b":4.352,"lab":"1117.73"},{"a":3.61,"b":4.511,"lab":"1515.16"},{"a":4.054,"b":4.65,"lab":"1912.58"}
]},
"layer":[
 {"mark":{"type":"point","shape":"M-1,-0.2778L1,-0.2778L1,0.2778L-1,0.2778Z","size":1296,"filled":true,"fill":"white","stroke":"#222","strokeWidth":1,"opacity":1}},
 {"mark":{"type":"text","fontSize":8.5,"font":"Liberation Sans","color":"#111"},"encoding":{"text":{"field":"lab"}}}
]},
{"data":{"values":[
{"a":1.59,"b":1.92,"g":"Design Points","n":""},{"a":4.41,"b":1.92,"g":"Design Points","n":""},{"a":1.59,"b":4.75,"g":"Design Points","n":""},{"a":4.41,"b":4.75,"g":"Design Points","n":""},{"a":3.0,"b":3.33,"g":"Design Points","n":"5"}
]},
"layer":[
 {"mark":{"type":"point","filled":true,"fill":"#ff0000","stroke":"#a00000","strokeWidth":1,"size":64,"opacity":1},
  "encoding":{"shape":{"field":"g","type":"nominal","scale":{"range":["circle"]},
   "legend":{"title":"Design-Expert® Software","orient":"none","legendX":-229,"legendY":-44,"titleFontSize":16,"titleColor":"#111","titleLimit":400,"titlePadding":43,"labelFontSize":16,"labelColor":"#ff0000","labelLimit":300,"symbolSize":100,"symbolFillColor":"#ff0000","symbolStrokeColor":"#cc0000","symbolOffset":3,"labelOffset":8}}}},
 {"mark":{"type":"text","align":"right","dx":-5,"fontSize":10,"fontWeight":"bold","color":"#111"},"encoding":{"text":{"field":"n"}}}
]},
{"data":{"values":[{"k":"X1 = A: Height","a":3.0,"b":3.33},{"k":"X2 = B: Radius","a":3.0,"b":3.33}]},
 "mark":{"type":"line","opacity":0},
 "encoding":{
  "strokeDash":{"field":"k","type":"nominal","legend":{"title":null,"orient":"none","legendX":-246,"legendY":132,"labelFontSize":16,"labelColor":"#111","labelLimit":300,"symbolSize":0,"symbolOpacity":0,"symbolStrokeWidth":0,"labelOffset":0,"rowPadding":4}}}
}
]
}
